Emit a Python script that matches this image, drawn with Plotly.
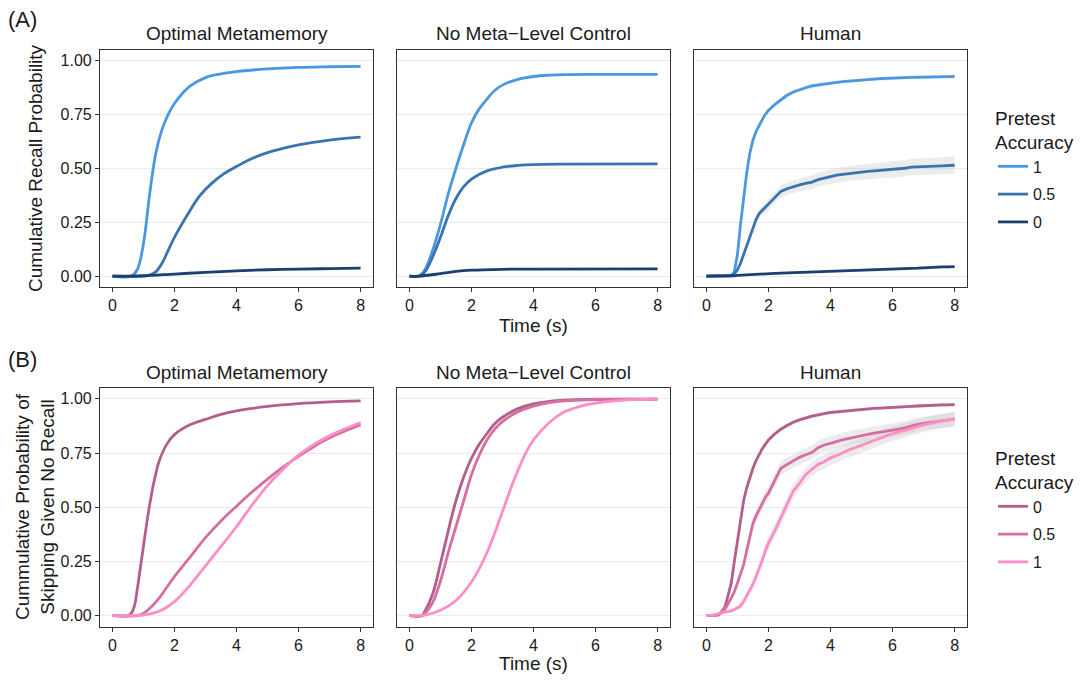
import plotly.graph_objects as go

# ---------------- DATA ----------------
panels = ["Optimal Metamemory", "No Meta\u2212Level Control", "Human"]
x_ticks = [0, 2, 4, 6, 8]
y_ticks = [0, 0.25, 0.5, 0.75, 1.0]
y_tick_labels = ["0.00", "0.25", "0.50", "0.75", "1.00"]

# Row A: cumulative recall probability (model panels)
optA_t1 = [0, 0.6, 0.8, 1.0, 1.2, 1.4, 1.6, 1.8, 2.0, 2.5, 3.0, 3.5, 4.0, 5.0, 6.0, 7.0, 8.0]
optA_v1 = [0, 0.0, 0.03, 0.15, 0.38, 0.57, 0.68, 0.75, 0.80, 0.88, 0.92, 0.937, 0.948, 0.96, 0.967, 0.97, 0.972]
optA_t05 = [0, 1.0, 1.2, 1.4, 1.6, 1.8, 2.0, 2.4, 2.8, 3.2, 3.6, 4.0, 4.5, 5.0, 5.5, 6.0, 7.0, 8.0]
optA_v05 = [0, 0.0, 0.005, 0.02, 0.06, 0.12, 0.18, 0.28, 0.37, 0.43, 0.475, 0.508, 0.545, 0.572, 0.592, 0.608, 0.63, 0.644]
optA_t0 = [0, 0.5, 1, 2, 3, 4, 5, 6, 7, 8]
optA_v0 = [0, 0.0, 0.002, 0.01, 0.018, 0.025, 0.03, 0.033, 0.035, 0.037]

nmA_t1 = [0, 0.3, 0.5, 0.75, 1.0, 1.25, 1.5, 1.75, 2.0, 2.25, 2.5, 2.75, 3.0, 3.5, 4.0, 4.5, 5.0, 6.0, 8.0]
nmA_v1 = [0, 0.0, 0.03, 0.12, 0.24, 0.38, 0.50, 0.61, 0.71, 0.775, 0.82, 0.86, 0.885, 0.912, 0.925, 0.931, 0.934, 0.935, 0.935]
nmA_t05 = [0, 0.3, 0.5, 0.75, 1.0, 1.25, 1.5, 1.75, 2.0, 2.5, 3.0, 3.5, 4.0, 5.0, 8.0]
nmA_v05 = [0, 0.0, 0.02, 0.09, 0.18, 0.28, 0.36, 0.415, 0.45, 0.488, 0.505, 0.513, 0.517, 0.519, 0.52]
nmA_t0 = [0, 0.3, 1.0, 1.5, 2.0, 3.0, 4.0, 8.0]
nmA_v0 = [0, 0.0, 0.012, 0.022, 0.028, 0.032, 0.033, 0.034]

# Human time grid
t_h = [0, 0.2, 0.4, 0.6, 0.8, 0.9, 1.0, 1.1, 1.2, 1.3, 1.4, 1.5, 1.6, 1.7, 1.8, 1.9,
       2.0, 2.2, 2.4, 2.6, 2.8, 3.0, 3.2, 3.4, 3.6, 3.8, 4.0, 4.2, 4.4, 4.6, 4.8, 5.0,
       5.2, 5.4, 5.6, 5.8, 6.0, 6.2, 6.4, 6.6, 6.8, 7.0, 7.2, 7.4, 7.6, 7.8, 8.0]

humA_v1 = [0, 0, 0, 0, 0.003, 0.02, 0.1, 0.24, 0.37, 0.48, 0.57, 0.63, 0.67, 0.70, 0.725, 0.75,
           0.768, 0.795, 0.818, 0.838, 0.853, 0.864, 0.873, 0.881, 0.886, 0.891, 0.895, 0.898, 0.901, 0.904, 0.907, 0.909,
           0.911, 0.913, 0.915, 0.917, 0.918, 0.919, 0.920, 0.921, 0.921, 0.922, 0.923, 0.923, 0.924, 0.924, 0.925]
humA_se1 = [0, 0, 0, 0, 0.002, 0.005, 0.008, 0.01, 0.01, 0.01, 0.01, 0.01, 0.01, 0.01, 0.01, 0.01,
            0.01, 0.01, 0.01, 0.01, 0.01, 0.01, 0.01, 0.01, 0.01, 0.01, 0.008, 0.008, 0.008, 0.008, 0.008, 0.008,
            0.008, 0.008, 0.008, 0.008, 0.008, 0.008, 0.008, 0.008, 0.008, 0.008, 0.008, 0.008, 0.008, 0.008, 0.008]
humA_v05 = [0, 0, 0, 0, 0.002, 0.01, 0.03, 0.06, 0.1, 0.14, 0.185, 0.225, 0.262, 0.29, 0.305, 0.318,
            0.33, 0.365, 0.393, 0.405, 0.415, 0.423, 0.43, 0.436, 0.447, 0.455, 0.46, 0.468, 0.472, 0.476, 0.48, 0.484,
            0.486, 0.488, 0.49, 0.492, 0.494, 0.496, 0.5, 0.505, 0.507, 0.508, 0.509, 0.51, 0.511, 0.512, 0.514]
humA_se05 = [0, 0, 0, 0, 0.002, 0.004, 0.006, 0.008, 0.01, 0.012, 0.014, 0.016, 0.019, 0.021, 0.023, 0.025,
             0.026, 0.027, 0.028, 0.029, 0.03, 0.03, 0.031, 0.031, 0.032, 0.032, 0.033, 0.033, 0.034, 0.034, 0.035, 0.035,
             0.035, 0.036, 0.036, 0.036, 0.037, 0.037, 0.037, 0.038, 0.038, 0.038, 0.039, 0.039, 0.04, 0.04, 0.04]
humA_v0 = [0, 0, 0, 0, 0, 0.002, 0.004, 0.005, 0.006, 0.007, 0.008, 0.009, 0.01, 0.01, 0.011, 0.011,
           0.012, 0.013, 0.014, 0.015, 0.016, 0.017, 0.018, 0.018, 0.019, 0.02, 0.021, 0.022, 0.023, 0.024, 0.024, 0.025,
           0.026, 0.027, 0.028, 0.029, 0.03, 0.031, 0.033, 0.035, 0.037, 0.039, 0.041, 0.042, 0.043, 0.043, 0.044]
humA_se0 = [0, 0, 0, 0, 0.001, 0.002, 0.002, 0.003, 0.003, 0.003, 0.003, 0.004, 0.004, 0.004, 0.004, 0.004,
            0.004, 0.004, 0.004, 0.004, 0.005, 0.005, 0.005, 0.005, 0.005, 0.005, 0.005, 0.005, 0.005, 0.005, 0.005, 0.005,
            0.005, 0.006, 0.006, 0.006, 0.006, 0.006, 0.006, 0.006, 0.006, 0.006, 0.006, 0.006, 0.006, 0.006, 0.006]

# Row B: cumulative probability of skipping given no recall (model panels)
optB_t0 = [0, 0.5, 0.6, 0.7, 0.8, 0.9, 1.0, 1.1, 1.2, 1.3, 1.4, 1.5, 1.75, 2.0, 2.5, 3.0, 3.5, 4.0, 5.0, 6.0, 7.0, 8.0]
optB_v0 = [0, 0.0, 0.01, 0.04, 0.12, 0.22, 0.32, 0.42, 0.51, 0.59, 0.655, 0.71, 0.79, 0.835, 0.88, 0.905, 0.928, 0.945, 0.965, 0.978, 0.986, 0.991]
optB_t05 = [0, 0.8, 1.0, 1.25, 1.5, 1.75, 2.0, 2.5, 3.0, 3.5, 4.0, 4.5, 5.0, 5.5, 6.0, 6.5, 7.0, 7.5, 8.0]
optB_v05 = [0, 0.0, 0.01, 0.04, 0.08, 0.13, 0.18, 0.27, 0.36, 0.437, 0.505, 0.57, 0.63, 0.685, 0.735, 0.78, 0.82, 0.852, 0.88]
optB_t1 = [0, 1.0, 1.5, 2.0, 2.5, 3.0, 3.5, 4.0, 4.5, 5.0, 5.5, 6.0, 6.5, 7.0, 7.5, 8.0]
optB_v1 = [0, 0.003, 0.02, 0.065, 0.14, 0.23, 0.32, 0.41, 0.51, 0.60, 0.675, 0.74, 0.79, 0.83, 0.862, 0.89]

nmB_t0 = [0, 0.4, 0.5, 0.75, 1.0, 1.25, 1.5, 1.75, 2.0, 2.25, 2.5, 2.75, 3.0, 3.5, 4.0, 4.5, 5.0, 6.0, 8.0]
nmB_v0 = [0, 0.0, 0.02, 0.10, 0.24, 0.39, 0.53, 0.64, 0.725, 0.79, 0.84, 0.885, 0.915, 0.955, 0.977, 0.988, 0.994, 0.998, 0.999]
nmB_t05 = [0, 0.4, 0.5, 0.75, 1.0, 1.25, 1.5, 1.75, 2.0, 2.25, 2.5, 2.75, 3.0, 3.5, 4.0, 4.5, 5.0, 6.0, 8.0]
nmB_v05 = [0, 0.0, 0.01, 0.06, 0.16, 0.29, 0.41, 0.53, 0.65, 0.74, 0.81, 0.86, 0.895, 0.94, 0.966, 0.982, 0.991, 0.997, 0.999]
nmB_t1 = [0, 0.5, 1.0, 1.5, 2.0, 2.5, 3.0, 3.25, 3.5, 3.75, 4.0, 4.5, 5.0, 5.5, 6.0, 7.0, 8.0]
nmB_v1 = [0, 0.003, 0.025, 0.07, 0.155, 0.29, 0.48, 0.58, 0.67, 0.75, 0.81, 0.89, 0.94, 0.965, 0.98, 0.995, 0.999]

humB_v0 = [0, 0, 0.003, 0.04, 0.15, 0.25, 0.34, 0.44, 0.53, 0.59, 0.64, 0.68, 0.715, 0.745, 0.77, 0.79,
           0.81, 0.838, 0.86, 0.877, 0.892, 0.903, 0.912, 0.92, 0.926, 0.932, 0.937, 0.94, 0.943, 0.946, 0.949, 0.952,
           0.954, 0.956, 0.957, 0.958, 0.96, 0.962, 0.963, 0.965, 0.967, 0.969, 0.971, 0.972, 0.972, 0.972, 0.973]
humB_se0 = [0, 0, 0.002, 0.005, 0.008, 0.01, 0.012, 0.013, 0.014, 0.014, 0.014, 0.014, 0.014, 0.013, 0.013, 0.012,
            0.012, 0.011, 0.011, 0.011, 0.01, 0.01, 0.01, 0.01, 0.01, 0.009, 0.009, 0.009, 0.009, 0.009, 0.009, 0.009,
            0.008, 0.008, 0.008, 0.008, 0.008, 0.008, 0.008, 0.008, 0.008, 0.008, 0.008, 0.008, 0.008, 0.008, 0.008]
humB_v05 = [0, 0, 0.005, 0.03, 0.08, 0.11, 0.15, 0.19, 0.235, 0.3, 0.37, 0.425, 0.46, 0.49, 0.52, 0.545,
            0.565, 0.625, 0.68, 0.697, 0.715, 0.73, 0.742, 0.752, 0.775, 0.787, 0.795, 0.805, 0.812, 0.818, 0.825, 0.83,
            0.836, 0.842, 0.846, 0.85, 0.855, 0.86, 0.866, 0.875, 0.882, 0.887, 0.891, 0.895, 0.898, 0.902, 0.906]
humB_se05 = [0, 0, 0.003, 0.008, 0.012, 0.015, 0.018, 0.02, 0.022, 0.025, 0.027, 0.028, 0.03, 0.03, 0.031, 0.031,
             0.032, 0.032, 0.032, 0.032, 0.032, 0.032, 0.032, 0.032, 0.032, 0.032, 0.032, 0.032, 0.032, 0.032, 0.032, 0.032,
             0.032, 0.032, 0.032, 0.032, 0.032, 0.032, 0.032, 0.032, 0.032, 0.032, 0.032, 0.032, 0.032, 0.032, 0.032]
humB_v1 = [0, 0.002, 0.01, 0.015, 0.022, 0.028, 0.035, 0.045, 0.065, 0.09, 0.118, 0.145, 0.18, 0.215, 0.255, 0.3,
           0.335, 0.39, 0.45, 0.51, 0.575, 0.61, 0.65, 0.675, 0.698, 0.71, 0.728, 0.738, 0.752, 0.765, 0.775, 0.785,
           0.795, 0.805, 0.818, 0.83, 0.84, 0.848, 0.855, 0.862, 0.872, 0.88, 0.888, 0.893, 0.898, 0.903, 0.907]
humB_se1 = [0, 0.002, 0.005, 0.007, 0.009, 0.01, 0.012, 0.014, 0.016, 0.018, 0.02, 0.022, 0.024, 0.026, 0.028, 0.03,
            0.03, 0.032, 0.032, 0.033, 0.033, 0.033, 0.033, 0.033, 0.033, 0.033, 0.033, 0.033, 0.033, 0.033, 0.033, 0.033,
            0.033, 0.033, 0.033, 0.033, 0.033, 0.033, 0.033, 0.033, 0.033, 0.033, 0.033, 0.033, 0.033, 0.033, 0.033]

legend_levels_A = ["1", "0.5", "0"]
legend_levels_B = ["0", "0.5", "1"]
colors_A = {"1": "#4A98E0", "0.5": "#3A73B2", "0": "#1B3F6F"}
colors_B = {"0": "#B35E8B", "0.5": "#D56FA3", "1": "#FF8DC6"}

# ---------------- LAYOUT GEOMETRY ----------------
W, H = 1082, 680
FONT = "Liberation Sans, Arial, Helvetica, sans-serif"
panel_x = [(100, 373), (397, 670), (694, 967)]
row_y = [(49.5, 287), (388, 626.5)]

def fx(px):
    return px / W

def fy(py):
    return 1 - py / H

fig = go.Figure()

series_A = [
    [("1", optA_t1, optA_v1, None), ("0.5", optA_t05, optA_v05, None), ("0", optA_t0, optA_v0, None)],
    [("1", nmA_t1, nmA_v1, None), ("0.5", nmA_t05, nmA_v05, None), ("0", nmA_t0, nmA_v0, None)],
    [("1", t_h, humA_v1, humA_se1), ("0.5", t_h, humA_v05, humA_se05), ("0", t_h, humA_v0, humA_se0)],
]
series_B = [
    [("0", optB_t0, optB_v0, None), ("0.5", optB_t05, optB_v05, None), ("1", optB_t1, optB_v1, None)],
    [("0", nmB_t0, nmB_v0, None), ("0.5", nmB_t05, nmB_v05, None), ("1", nmB_t1, nmB_v1, None)],
    [("0", t_h, humB_v0, humB_se0), ("0.5", t_h, humB_v05, humB_se05), ("1", t_h, humB_v1, humB_se1)],
]

axis_idx = 0
for r, (row_series, colors, legname) in enumerate([(series_A, colors_A, "legend"), (series_B, colors_B, "legend2")]):
    for c in range(3):
        axis_idx += 1
        xa = "x" if axis_idx == 1 else f"x{axis_idx}"
        ya = "y" if axis_idx == 1 else f"y{axis_idx}"
        # ribbons first
        for lvl, t, v, se in row_series[c]:
            if se is not None:
                upper = [a + b for a, b in zip(v, se)]
                lower = [a - b for a, b in zip(v, se)]
                fig.add_trace(go.Scatter(
                    x=list(t) + list(t)[::-1], y=upper + lower[::-1],
                    fill="toself", fillcolor="rgba(200,200,200,0.35)",
                    line=dict(width=0), mode="lines", hoverinfo="skip",
                    showlegend=False, xaxis=xa, yaxis=ya))
        for lvl, t, v, se in row_series[c]:
            fig.add_trace(go.Scatter(
                x=t, y=v, mode="lines",
                line=dict(color=colors[lvl], width=2.8,
                          shape="spline" if se is None else "linear", smoothing=1.0),
                name=lvl, legendgroup=f"{legname}_{lvl}", legend=legname,
                showlegend=(c == 0), xaxis=xa, yaxis=ya))
        x0, x1 = panel_x[c]
        y0, y1 = row_y[r]
        common = dict(showline=True, mirror=True, linecolor="#333333", linewidth=1.1,
                      ticks="outside", ticklen=4, tickwidth=1.1, tickcolor="#333333",
                      zeroline=False, tickfont=dict(family=FONT, size=16, color="#1a1a1a"))
        xkey = "xaxis" if axis_idx == 1 else f"xaxis{axis_idx}"
        ykey = "yaxis" if axis_idx == 1 else f"yaxis{axis_idx}"
        fig.layout[xkey] = dict(domain=[fx(x0), fx(x1)], anchor=ya, range=[-0.4, 8.4],
                                tickvals=x_ticks, ticktext=[str(v) for v in x_ticks],
                                showgrid=False, **common)
        ydict = dict(domain=[fy(y1), fy(y0)], anchor=xa, range=[-0.05, 1.05],
                     tickvals=y_ticks, ticktext=y_tick_labels,
                     showgrid=True, gridcolor="#EBEBEB", gridwidth=1.3, **common)
        if c > 0:
            ydict["showticklabels"] = False
            ydict["ticks"] = ""
        fig.layout[ykey] = ydict

annotations = []
def ann(text, x, y, size, xanchor="center", yanchor="middle", angle=0):
    annotations.append(dict(text=text, x=fx(x), y=fy(y), xref="paper", yref="paper",
                            showarrow=False, xanchor=xanchor, yanchor=yanchor, textangle=angle,
                            font=dict(family=FONT, size=size, color="#1a1a1a")))

ann("(A)", 6, 19, 22, xanchor="left")
ann("(B)", 6, 359, 22, xanchor="left")
for r, ytitle in enumerate([33, 372]):
    for c in range(3):
        ann(panels[c], (panel_x[c][0] + panel_x[c][1]) / 2, ytitle, 19)
ann("Time (s)", 533.5, 325, 19)
ann("Time (s)", 533.5, 663, 19)
ann("Cumulative Recall Probability", 35, 168, 19, angle=-90)
ann("Cummulative Probability of<br>Skipping Given No Recall", 35, 507, 19, angle=-90)

legend_common = dict(xanchor="left", yanchor="top", bgcolor="rgba(0,0,0,0)",
                     font=dict(family=FONT, size=16, color="#1a1a1a"),
                     title=dict(text="Pretest<br>Accuracy", font=dict(family=FONT, size=19, color="#1a1a1a")),
                     tracegroupgap=4, itemwidth=30)

fig.update_layout(
    width=W, height=H, margin=dict(l=0, r=0, t=0, b=0),
    paper_bgcolor="white", plot_bgcolor="white",
    annotations=annotations,
    legend=dict(x=fx(993), y=fy(100), **legend_common),
    legend2=dict(x=fx(993), y=fy(440), **legend_common),
    font=dict(family=FONT),
)

fig.write_html("out.html")
